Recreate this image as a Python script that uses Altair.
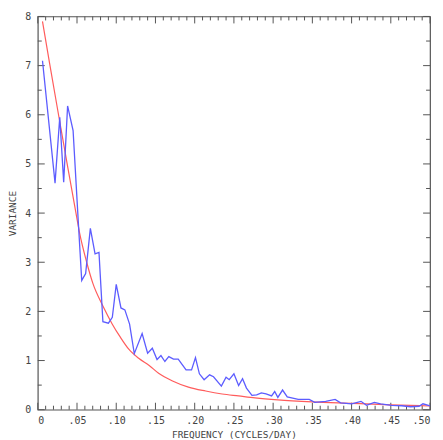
import altair as alt
import pandas as pd

# Observed spectrum (blue)
freq_obs = [0.006, 0.022, 0.028, 0.033, 0.038, 0.045, 0.052, 0.056, 0.061, 0.067,
            0.073, 0.078, 0.083, 0.090, 0.095, 0.100, 0.106, 0.111, 0.117, 0.123,
            0.133, 0.140, 0.146, 0.152, 0.157, 0.162, 0.167, 0.173, 0.179, 0.189,
            0.196, 0.201, 0.206, 0.212, 0.219, 0.224, 0.234, 0.240, 0.244, 0.250,
            0.256, 0.261, 0.266, 0.273, 0.279, 0.285, 0.291, 0.298, 0.302, 0.306,
            0.312, 0.318, 0.332, 0.346, 0.353, 0.367, 0.379, 0.386, 0.400, 0.412,
            0.419, 0.429, 0.437, 0.451, 0.464, 0.475, 0.486, 0.491, 0.500]
var_obs = [7.10, 4.61, 5.95, 4.63, 6.18, 5.68, 3.72, 2.63, 2.77, 3.69,
           3.17, 3.20, 1.79, 1.76, 1.88, 2.55, 2.07, 2.03, 1.74, 1.14,
           1.55, 1.15, 1.25, 1.02, 1.10, 0.98, 1.08, 1.03, 1.03, 0.81,
           0.81, 1.06, 0.73, 0.61, 0.71, 0.67, 0.48, 0.66, 0.61, 0.73,
           0.49, 0.63, 0.44, 0.29, 0.30, 0.34, 0.32, 0.28, 0.37, 0.25,
           0.40, 0.26, 0.21, 0.21, 0.15, 0.17, 0.21, 0.14, 0.12, 0.17,
           0.09, 0.15, 0.12, 0.09, 0.08, 0.06, 0.07, 0.12, 0.08]

# Fitted curve (red)
freq_fit = [0.006, 0.015, 0.027, 0.038, 0.048, 0.053, 0.062, 0.070, 0.083, 0.095,
            0.105, 0.116, 0.129, 0.142, 0.154, 0.171, 0.192, 0.214, 0.235, 0.256,
            0.277, 0.306, 0.350, 0.400, 0.450, 0.500]
var_fit = [7.90, 7.05, 5.95, 4.95, 4.06, 3.62, 3.02, 2.58, 2.11, 1.74,
           1.48, 1.23, 1.04, 0.90, 0.74, 0.59, 0.46, 0.38, 0.32, 0.28,
           0.24, 0.20, 0.16, 0.13, 0.10, 0.075]

x_major = [0, 0.05, 0.10, 0.15, 0.20, 0.25, 0.30, 0.35, 0.40, 0.45, 0.50]
x_minor = [i / 100 for i in range(0, 51) if i % 5 != 0]
y_major = [0, 1, 2, 3, 4, 5, 6, 7, 8]
y_minor = [0.5, 1.5, 2.5, 3.5, 4.5, 5.5, 6.5, 7.5]

W, H = 395, 396
FONT = "DejaVu Sans Mono"
AX = "#555555"

obs = pd.DataFrame({"f": freq_obs, "v": var_obs})
fit = pd.DataFrame({"f": freq_fit, "v": var_fit})

xscale = alt.Scale(domain=[0, 0.5], nice=False, zero=False)
yscale = alt.Scale(domain=[0, 8], nice=False)

xaxis = alt.Axis(values=x_major, grid=False, domain=False, ticks=True, tickSize=0,
                 tickColor="transparent", labelPadding=6, labelFont=FONT, labelFontSize=10,
                 labelColor="#444", titleFont=FONT, titleFontSize=9.5, titleColor="#444",
                 titleFontWeight="normal", titleY=25, titleBaseline="middle",
                 labelExpr="datum.value == 0 ? '0' : replace(format(datum.value, '.2f'), '0.', '.')")
yaxis = alt.Axis(values=y_major, grid=False, domain=False, ticks=True, tickSize=0,
                 tickColor="transparent", labelPadding=7, labelFont=FONT, labelFontSize=10,
                 labelColor="#444", titleFont=FONT, titleFontSize=9.5, titleColor="#444",
                 titleFontWeight="normal", titleX=-25, titleY=H / 2, titleAngle=-90,
                 titleAlign="center", titleBaseline="middle", format="d")

X = alt.X("f:Q", scale=xscale, axis=xaxis, title="FREQUENCY (CYCLES/DAY)")
Y = alt.Y("v:Q", scale=yscale, axis=yaxis, title="VARIANCE")

fit_line = alt.Chart(fit).mark_line(color="#ff5c5c", strokeWidth=1.2, interpolate="monotone").encode(x=X, y=Y)
obs_line = alt.Chart(obs).mark_line(color="#5c5cff", strokeWidth=1.3).encode(x=X, y=Y)

def xticks(vals, length):
    d = pd.DataFrame({"f": vals})
    top = alt.Chart(d).mark_rule(color=AX, strokeWidth=1).encode(x=X, y=alt.value(0), y2=alt.value(length))
    bot = alt.Chart(d).mark_rule(color=AX, strokeWidth=1).encode(x=X, y=alt.value(H), y2=alt.value(H - length))
    return [top, bot]

def yticks(vals, length):
    d = pd.DataFrame({"v": vals})
    left = alt.Chart(d).mark_rule(color=AX, strokeWidth=1).encode(y=Y, x=alt.value(0), x2=alt.value(length))
    right = alt.Chart(d).mark_rule(color=AX, strokeWidth=1).encode(y=Y, x=alt.value(W), x2=alt.value(W - length))
    return [left, right]

layers = xticks(x_major, 7) + xticks(x_minor, 4) + yticks(y_major, 7) + yticks(y_minor, 4) + [fit_line, obs_line]

chart = alt.layer(*layers).properties(
    width=W, height=H,
    autosize=alt.AutoSizeParams(type="none"),
    padding={"left": 30, "top": 7, "right": 5, "bottom": 30},
).configure_view(stroke=AX, strokeWidth=1.2)

chart.save("out.html", embed_options={"renderer": "svg", "actions": False})
